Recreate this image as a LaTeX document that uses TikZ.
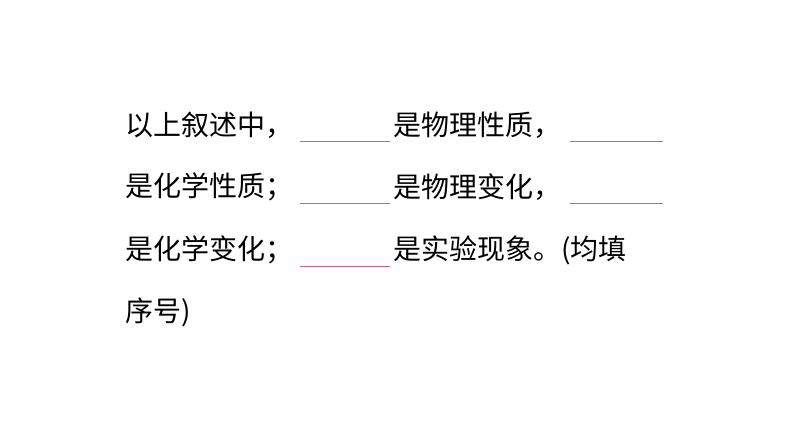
\documentclass[tikz,border=0pt]{standalone}
\usepackage{fontspec}
\newfontfamily\cjk{Noto Sans CJK SC}
\begin{document}
\begin{tikzpicture}[x=1pt,y=1pt,
  txt/.style={anchor=west,inner sep=0pt,font=\cjk\fontsize{28}{28}\selectfont},
  blank/.style={draw={rgb,255:red,220;green,90;blue,140},line width=0.8pt}]
\useasboundingbox (0,0) rectangle (794,447);
\fill[white] (0,0) rectangle (794,447);
\node[txt] (a1) at (125,322) {以上叙述中，};
\node[txt] (a2) at (393,322) {是物理性质，};
\node[txt] (b1) at (125,260) {是化学性质；};
\node[txt] (b2) at (393,260) {是物理变化，};
\node[txt] (c1) at (125,197) {是化学变化；};
\node[txt] (c2) at (393,197) {是实验现象。(均填};
\node[txt] (d1) at (125,135) {序号)};
\coordinate (l1a) at (300,306); \coordinate (l1b) at (390,306);
\coordinate (l2a) at (570,306); \coordinate (l2b) at (663,306);
\coordinate (l3a) at (300,244); \coordinate (l3b) at (390,244);
\coordinate (l4a) at (570,244); \coordinate (l4b) at (663,244);
\coordinate (l5a) at (300,181); \coordinate (l5b) at (390,181);
\draw[blank] (l1a)--(l1b); \draw[blank] (l2a)--(l2b);
\draw[blank] (l3a)--(l3b); \draw[blank] (l4a)--(l4b);
\draw[blank] (l5a)--(l5b);
\end{tikzpicture}
\end{document}
